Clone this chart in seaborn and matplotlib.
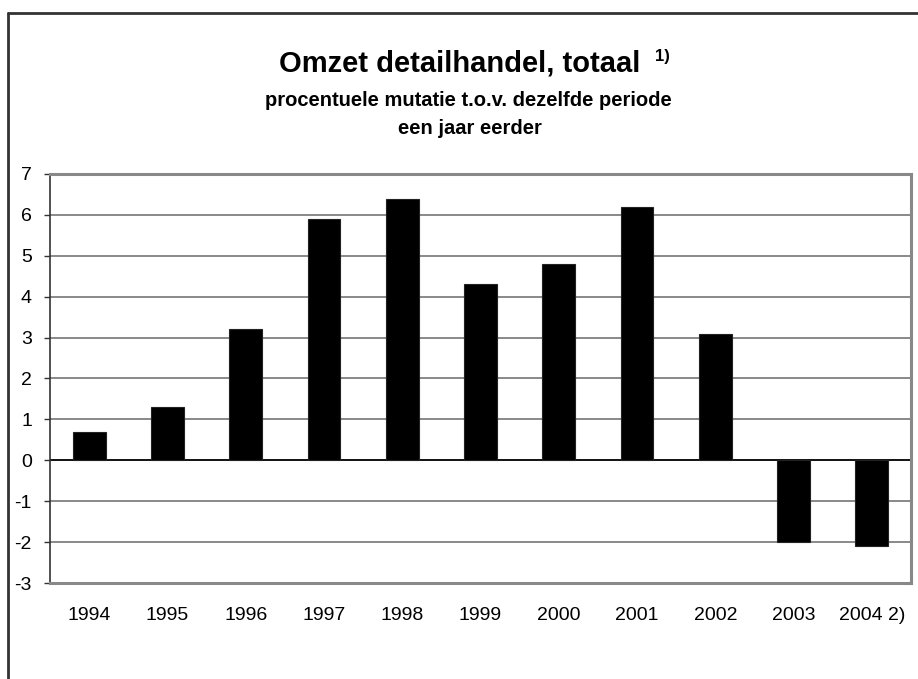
import matplotlib
matplotlib.use("Agg")
import matplotlib.pyplot as plt
from matplotlib.lines import Line2D
import seaborn as sns
import pandas as pd

# Data
years = ["1994", "1995", "1996", "1997", "1998", "1999", "2000", "2001", "2002", "2003", "2004 2)"]
mutatie = [0.7, 1.3, 3.2, 5.9, 6.4, 4.3, 4.8, 6.2, 3.1, -2.0, -2.1]
yticks = [-3, -2, -1, 0, 1, 2, 3, 4, 5, 6, 7]

df = pd.DataFrame({"jaar": years, "mutatie": mutatie})

sns.set_style("white")
plt.rcParams["font.family"] = ["Liberation Sans", "DejaVu Sans"]
plt.rcParams["text.color"] = "black"
plt.rcParams["xtick.color"] = "black"
plt.rcParams["ytick.color"] = "black"

fig = plt.figure(figsize=(9.18, 6.79), dpi=100)
ax = fig.add_axes([50 / 918, 1 - 583 / 679, (911 - 50) / 918, (583 - 174) / 679])

# Gridlines first so the bars sit on top
for t in yticks:
    ax.axhline(t, color="#808080", lw=1.3, zorder=0)
ax.axhline(0, color="black", lw=1.2, zorder=1)

sns.barplot(data=df, x="jaar", y="mutatie", color="black", width=0.42,
            edgecolor="#222222", linewidth=0.8, saturation=1, ax=ax, zorder=2)

ax.set_ylim(-3, 7)
ax.set_xlim(-0.5, len(years) - 0.5)
ax.set_yticks(yticks)
ax.set_yticklabels([str(t) for t in yticks], fontsize=14)
ax.tick_params(axis="x", length=0, pad=17, labelsize=14)
ax.tick_params(axis="y", length=4, width=1, color="#333333", direction="out", pad=9, left=True)
ax.set_xlabel("")
ax.set_ylabel("")

for side in ["top", "right", "bottom"]:
    ax.spines[side].set_color("#888888")
    ax.spines[side].set_linewidth(2.2)
ax.spines["left"].set_color("#333333")
ax.spines["left"].set_linewidth(1.2)

# Titles
fig.text(460 / 918, 1 - 64 / 679, "Omzet detailhandel, totaal", ha="center", va="center",
         fontsize=21, fontweight="bold")
fig.text(655 / 918, 1 - 57 / 679, "1)", ha="left", va="center", fontsize=12, fontweight="bold")
fig.text(468 / 918, 1 - 100 / 679, "procentuele mutatie t.o.v. dezelfde periode", ha="center",
         va="center", fontsize=14.5, fontweight="bold")
fig.text(470 / 918, 1 - 128 / 679, "een jaar eerder", ha="center", va="center",
         fontsize=14.5, fontweight="bold")

# Frame of the chart area (top and left edge visible)
fig.add_artist(Line2D([8 / 918, 1], [1 - 13 / 679, 1 - 13 / 679], color="#333333", lw=2,
                      transform=fig.transFigure))
fig.add_artist(Line2D([8 / 918, 8 / 918], [0, 1 - 13 / 679], color="#333333", lw=2,
                      transform=fig.transFigure))

fig.savefig("out.png", dpi=100)
